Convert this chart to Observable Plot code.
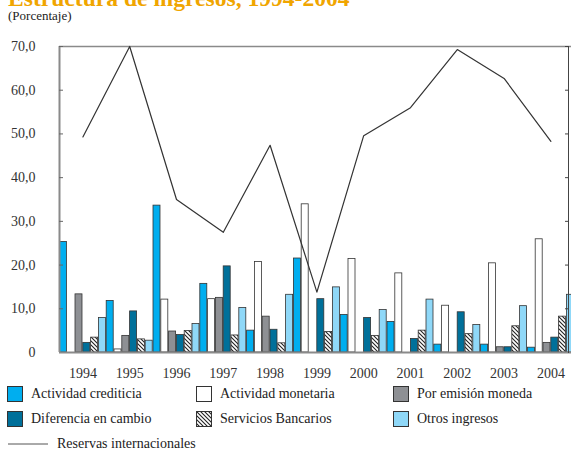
<!DOCTYPE html>
<html><head><meta charset="utf-8">
<script src="https://cdn.jsdelivr.net/npm/d3@7"></script>
<script src="https://cdn.jsdelivr.net/npm/@observablehq/plot@0.6"></script>
<style>
body{margin:0;background:#fff;font-family:"Liberation Serif",serif;}
#wrap{position:relative;width:571px;height:452px;overflow:hidden;background:#fff;}
#title{position:absolute;left:8px;top:-14px;font-size:23.6px;line-height:24px;font-weight:bold;color:#f0a500;white-space:nowrap;}
#sub{position:absolute;left:8px;top:9px;font-size:13px;line-height:13px;color:#222;white-space:nowrap;}
#chart{position:absolute;left:0;top:30px;}
.lg{position:absolute;display:flex;align-items:center;font-size:14px;color:#222;white-space:nowrap;height:16px;}
.lg svg{margin-right:8px;display:block;}
</style></head><body>
<div id="wrap">
 <div id="title">Estructura de ingresos, 1994-2004</div>
 <div id="sub">(Porcentaje)</div>
 <div id="chart"></div>
 <div id="legend"></div>
</div>
<script>
const years = [1994, 1995, 1996, 1997, 1998, 1999, 2000, 2001, 2002, 2003, 2004];
const crediticia = [25.3, 11.8, 33.6, 15.7, 5.0, 21.5, 8.6, 7.0, 1.8, 1.8, 1.1];
const monetaria  = [0, 0.7, 12.1, 12.2, 20.7, 33.9, 21.4, 18.1, 10.7, 20.4, 25.9];
const emision    = [13.3, 3.8, 4.8, 12.5, 8.2, 0, 0, 0, 0, 1.2, 2.2];
const diferencia = [2.2, 9.4, 4.0, 19.7, 5.2, 12.2, 7.9, 3.1, 9.2, 1.2, 3.4];
const servicios  = [3.4, 3.0, 4.9, 3.9, 2.1, 4.7, 3.8, 5.0, 4.2, 6.0, 8.2];
const otros      = [7.9, 2.7, 6.5, 10.2, 13.2, 14.9, 9.7, 12.1, 6.3, 10.6, 13.2];
const reservas   = [49.3, 70.0, 35.0, 27.5, 47.4, 13.8, 49.6, 56.0, 69.3, 62.7, 48.3];
const yTicks = [0, 10, 20, 30, 40, 50, 60, 70];
const seriesNames = ["Actividad crediticia", "Actividad monetaria", "Por emisión moneda",
                     "Diferencia en cambio", "Servicios Bancarios", "Otros ingresos"];
const lineName = "Reservas internacionales";

const seriesValues = [crediticia, monetaria, emision, diferencia, servicios, otros];
const seriesFills = ["#00aeef", "#ffffff", "#8e9094", "#00709a", "url(#hatch)", "#8fd8f8"];
const nS = seriesValues.length;

const barMarks = seriesValues.map((vals, j) =>
  Plot.rectY(vals.map((v, i) => ({i, v})).filter(d => d.v > 0), {
    x1: d => d.i + j / nS,
    x2: d => d.i + (j + 1) / nS,
    y: "v",
    fill: seriesFills[j],
    stroke: "#333",
    strokeWidth: 0.8,
    insetLeft: 0.4,
    insetRight: 0.4
  })
);

const fmt = d => d === 0 ? "0" : d.toFixed(1).replace(".", ",");
const axisColor = "#8a8a8a";

const chart = Plot.plot({
  width: 571,
  height: 356,
  marginTop: 16,
  marginBottom: 34,
  marginLeft: 59,
  marginRight: 3,
  style: {fontFamily: "'Liberation Serif', serif", fontSize: "14px", color: "#222", background: "transparent"},
  x: {domain: [0, years.length], range: [59, 59 + years.length * 46.8]},
  y: {domain: [0, 70]},
  marks: [
    Plot.ruleY([70], {x1: 0, x2: years.length, stroke: axisColor, strokeWidth: 1.5}),
    ...barMarks,
    Plot.ruleY([0], {x1: 0, x2: years.length, stroke: axisColor, strokeWidth: 2}),
    Plot.ruleX([0], {y1: 0, y2: 70, stroke: axisColor, strokeWidth: 2}),
    Plot.line(reservas.map((v, i) => ({i, v})), {x: d => d.i + 0.5, y: "v", stroke: "#333", strokeWidth: 1.2}),
    Plot.axisY(yTicks, {anchor: "left", label: null, tickSize: 0, tickPadding: 24, tickFormat: fmt, fill: "#333"}),
    Plot.axisY(yTicks.slice(1), {anchor: "left", label: null, tickSize: 4, dx: 4, tickFormat: () => "", stroke: "#666"}),
    Plot.axisY(yTicks.slice(1), {anchor: "right", label: null, tickSize: 4, dx: -4, tickFormat: () => "", stroke: "#444"}),
    Plot.frame({anchor: "right", stroke: "#444", strokeWidth: 1}),
    Plot.axisX(years.map((y, i) => i + 0.5), {label: null, tickSize: 0, tickPadding: 16, tickFormat: d => String(years[Math.floor(d)]), fill: "#333"})
  ]
});

function addHatch(svgNode, id) {
  const defs = d3.select(svgNode).insert("defs", ":first-child");
  const p = defs.append("pattern").attr("id", id).attr("patternUnits", "userSpaceOnUse")
    .attr("width", 4).attr("height", 4);
  p.append("rect").attr("width", 4).attr("height", 4).attr("fill", "#fff");
  p.append("path").attr("d", "M-1,-1L5,5M3,-1L5,1M-1,3L1,5").attr("stroke", "#222").attr("stroke-width", 1.1);
}
addHatch(chart, "hatch");
document.getElementById("chart").appendChild(chart);

// legend
const legend = document.getElementById("legend");
const colX = [7, 196, 393];
const rowY = [386, 411];
seriesNames.forEach((name, j) => {
  const div = document.createElement("div");
  div.className = "lg";
  div.style.left = colX[j % 3] + "px";
  div.style.top = rowY[Math.floor(j / 3)] + "px";
  const fill = seriesFills[j] === "url(#hatch)" ? "url(#hatchL)" : seriesFills[j];
  div.innerHTML = `<svg width="16" height="16"><rect x="0.5" y="0.5" width="15" height="15" fill="${fill}" stroke="#333" stroke-width="1"/></svg><span>${name}</span>`;
  legend.appendChild(div);
  if (fill === "url(#hatchL)") addHatch(div.querySelector("svg"), "hatchL");
});
const ld = document.createElement("div");
ld.className = "lg";
ld.style.left = "7px";
ld.style.top = "436px";
ld.innerHTML = `<svg width="42" height="16"><line x1="1" x2="41" y1="8" y2="8" stroke="#555" stroke-width="1"/></svg><span>${lineName}</span>`;
legend.appendChild(ld);
</script>
</body></html>
